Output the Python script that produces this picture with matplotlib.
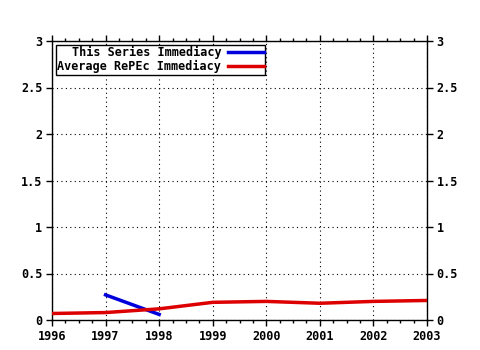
import matplotlib
matplotlib.use("Agg")
import matplotlib.pyplot as plt
from matplotlib.ticker import MultipleLocator

years_series = [1997, 1998]
series_vals = [0.27, 0.06]
years_avg = [1996, 1997, 1998, 1999, 2000, 2001, 2002, 2003]
avg_vals = [0.07, 0.08, 0.12, 0.19, 0.20, 0.18, 0.20, 0.21]
yticks = [0, 0.5, 1, 1.5, 2, 2.5, 3]
ytick_labels = ["0", "0.5", "1", "1.5", "2", "2.5", "3"]

plt.rcParams['font.family'] = ['DejaVu Sans Mono']
plt.rcParams['font.weight'] = 'bold'

fig = plt.figure(figsize=(4.8, 3.5), dpi=100)
ax = fig.add_axes([52/480, 30/350, 375/480, 279/350])

ax.plot(years_series, series_vals, color='#0000dd', lw=2.5, label='This Series Immediacy', zorder=3)
ax.plot(years_avg, avg_vals, color='#dd0000', lw=2.5, label='Average RePEc Immediacy', zorder=3)

ax.set_xlim(1996, 2003)
ax.set_ylim(0, 3)
ax.set_xticks(years_avg)
ax.set_xticklabels([str(y) for y in years_avg], fontsize=8.5, fontweight='bold')
ax.xaxis.set_minor_locator(MultipleLocator(0.25))
ax.set_yticks(yticks)
ax.set_yticklabels(ytick_labels, fontsize=8.5, fontweight='bold')
ax.tick_params(axis='both', which='both', direction='out', top=True, right=True,
               labelright=True, length=4, width=1, pad=3)
ax.tick_params(axis='x', which='minor', length=2)
ax.grid(True, which='major', color='black', linestyle=(0, (1, 3)), linewidth=0.8)
for s in ax.spines.values():
    s.set_linewidth(1)

leg = ax.legend(loc='upper left', markerfirst=False, fancybox=False, framealpha=1,
                edgecolor='black', handlelength=3, borderpad=0.15,
                labelspacing=0.05, borderaxespad=0.3, handletextpad=0.6,
                prop={'family': 'DejaVu Sans Mono', 'weight': 'bold', 'size': 8.5})
leg.get_frame().set_linewidth(1)
for t in leg.get_texts():
    t.set_ha('right')

fig.savefig('out.png', dpi=100)
